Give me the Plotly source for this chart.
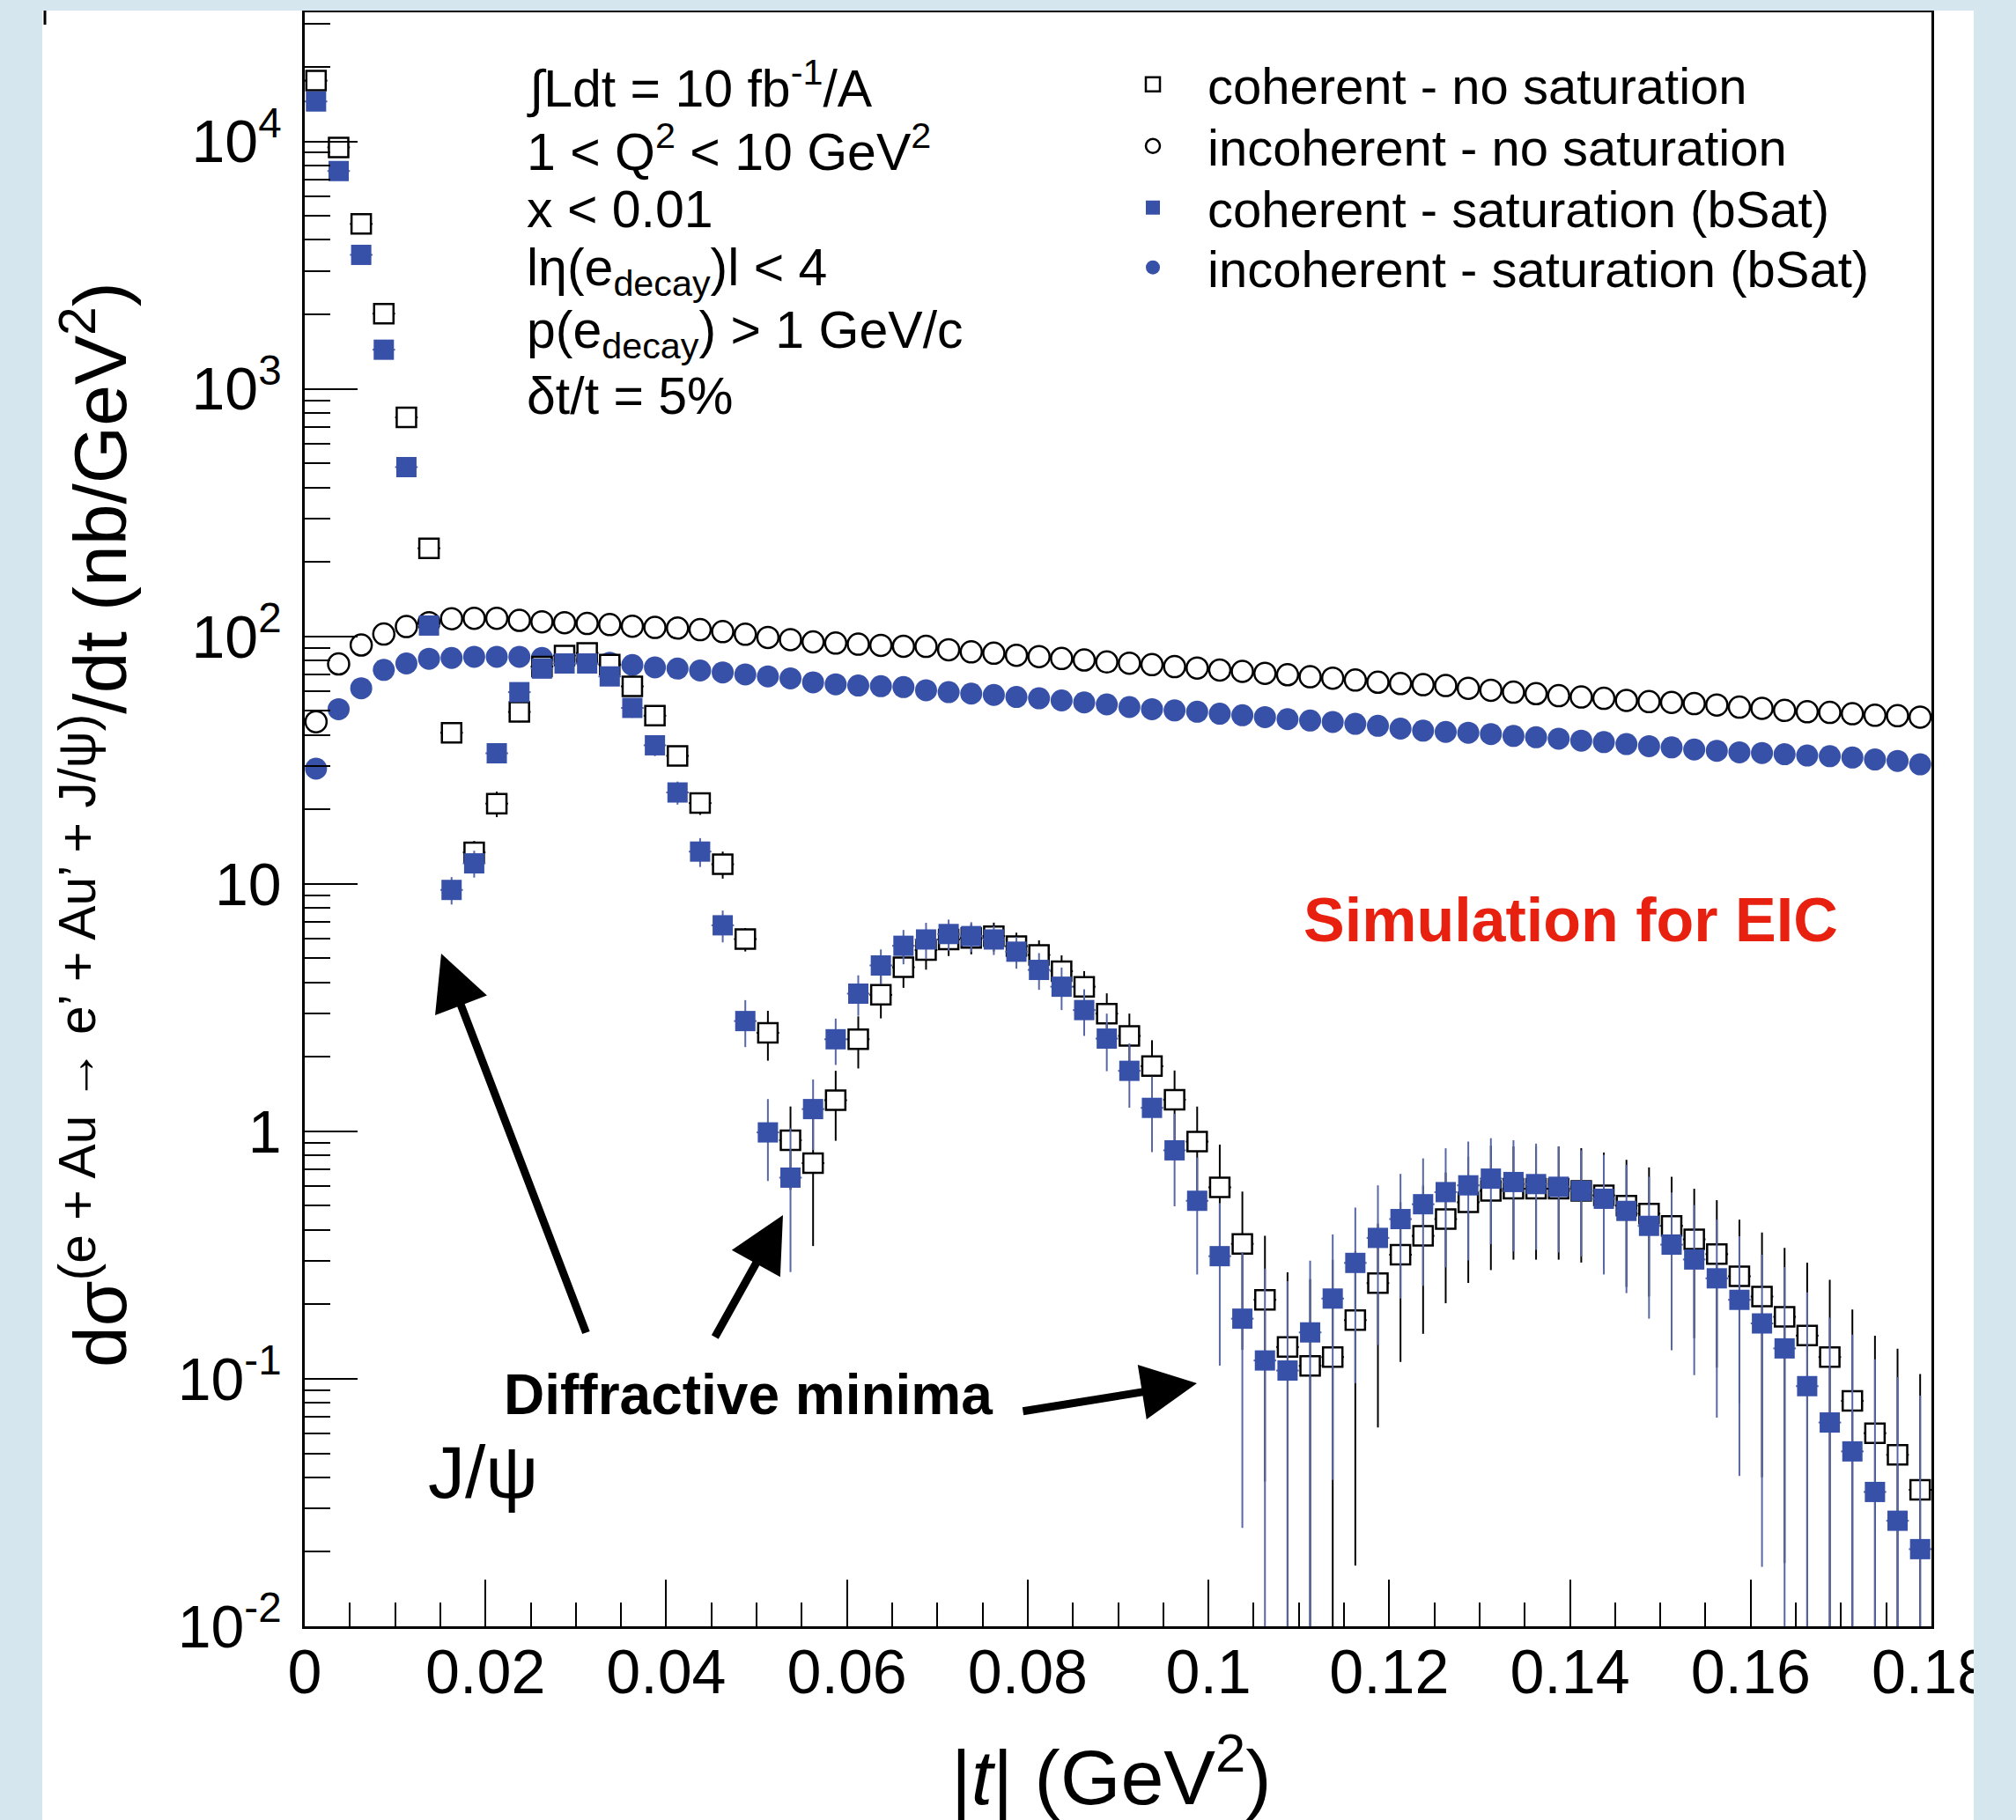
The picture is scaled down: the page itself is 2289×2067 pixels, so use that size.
import plotly.graph_objects as go

# ---------------- data ----------------
t_bins = [0.00125, 0.00375, 0.00625, 0.00875, 0.01125, 0.01375, 0.01625, 0.01875,
          0.02125, 0.02375, 0.02625, 0.02875, 0.03125, 0.03375, 0.03625, 0.03875,
          0.04125, 0.04375, 0.04625, 0.04875, 0.05125, 0.05375, 0.05625, 0.05875,
          0.06125, 0.06375, 0.06625, 0.06875, 0.07125, 0.07375, 0.07625, 0.07875,
          0.08125, 0.08375, 0.08625, 0.08875, 0.09125, 0.09375, 0.09625, 0.09875,
          0.10125, 0.10375, 0.10625, 0.10875, 0.11125, 0.11375, 0.11625, 0.11875,
          0.12125, 0.12375, 0.12625, 0.12875, 0.13125, 0.13375, 0.13625, 0.13875,
          0.14125, 0.14375, 0.14625, 0.14875, 0.15125, 0.15375, 0.15625, 0.15875,
          0.16125, 0.16375, 0.16625, 0.16875, 0.17125, 0.17375, 0.17625, 0.17875]
bin_half_width = 0.00125

coh_nosat = [17600, 9460, 4640, 2014, 767, 227, 40.8, 13.4, 21.1, 49.5, 75.5, 83.6,
             85.7, 76.9, 62.8, 47.8, 32.9, 21.2, 12.0, 5.98, 2.50, 0.92, 0.744, 1.336,
             2.355, 3.56, 4.6, 5.4, 5.96, 6.04, 6.15, 5.6, 5.16, 4.44, 3.84, 2.99,
             2.43, 1.834, 1.341, 0.909, 0.594, 0.351, 0.2085, 0.1344, 0.1128, 0.1224, 0.1726, 0.2436,
             0.317, 0.378, 0.442, 0.517, 0.575, 0.586, 0.586, 0.586, 0.575, 0.551, 0.501, 0.465,
             0.415, 0.366, 0.319, 0.2596, 0.215, 0.178, 0.1495, 0.1224, 0.0814, 0.0603, 0.0493, 0.0356]
coh_nosat_err = [300, 200, 120, 70, 35, 12, 3.5, 1.5, 2.5, 4.5, 6, 6.5,
                 6.5, 6, 5, 4, 3, 2.2, 1.5, 0.65, 0.57, 0.34, 0.4, 0.42,
                 0.56, 0.7, 0.8, 0.9, 0.85, 0.85, 0.82, 0.75, 0.75, 0.7, 0.6, 0.62,
                 0.56, 0.5, 0.42, 0.35, 0.29, 0.22, 0.17, 0.135, 0.14, 0.18, 0.155, 0.18,
                 0.2, 0.226, 0.24, 0.273, 0.3, 0.283, 0.283, 0.283, 0.28, 0.27, 0.266, 0.25,
                 0.24, 0.22, 0.208, 0.18, 0.175, 0.16, 0.145, 0.129, 0.109, 0.089, 0.083, 0.069]

coh_sat = [14500, 7590, 3480, 1440, 483, 110.6, 9.45, 12.1, 33.7, 59.5, 74.1, 77.7,
           77.7, 68.9, 51.4, 36.3, 23.4, 13.5, 6.8, 2.79, 0.99, 0.65, 1.23, 2.355,
           3.6, 4.68, 5.62, 5.96, 6.27, 6.15, 5.96, 5.32, 4.49, 3.84, 3.09, 2.37,
           1.756, 1.244, 0.838, 0.524, 0.313, 0.175, 0.1186, 0.108, 0.154, 0.211, 0.294, 0.371,
           0.442, 0.5075, 0.568, 0.605, 0.644, 0.624, 0.612, 0.597, 0.575, 0.534, 0.477, 0.415,
           0.3484, 0.3035, 0.2547, 0.2085, 0.1674, 0.1327, 0.0934, 0.0666, 0.0509, 0.0349, 0.0267, 0.0205]
coh_sat_err = [250, 170, 100, 55, 25, 7, 1.2, 1.5, 3, 5, 6, 6,
               6, 5.5, 4.5, 3.5, 2.5, 1.8, 1.0, 0.6, 0.36, 0.38, 0.39, 0.5,
               0.67, 0.75, 0.89, 1.0, 0.9, 0.85, 0.8, 0.78, 0.76, 0.75, 0.66, 0.62,
               0.51, 0.42, 0.34, 0.26, 0.2, 0.15, 0.16, 0.14, 0.146, 0.172, 0.198, 0.234,
               0.231, 0.27, 0.286, 0.304, 0.294, 0.297, 0.28, 0.273, 0.263, 0.27, 0.255, 0.24,
               0.218, 0.2, 0.185, 0.168, 0.15, 0.15, 0.13, 0.11, 0.1, 0.085, 0.075, 0.065]

incoh_nosat = [45.2, 77.4, 92.3, 102.2, 109.6, 113.6, 117.9, 118.3, 118.3, 116.1, 114.5, 113.6,
               112.8, 111.6, 109.9, 108.7, 108.0, 106.5, 104.5, 102.0, 99.0, 97.0, 95.0, 94.0,
               93.0, 92.0, 91.2, 91.1, 88.3, 86.6, 85.5, 83.9, 82.9, 81.4, 80.3, 78.8,
               77.9, 76.9, 75.5, 74.5, 73.1, 72.2, 70.9, 70.0, 68.7, 67.8, 66.6, 65.3,
               64.5, 63.8, 63.3, 61.7, 60.6, 59.5, 58.7, 57.6, 56.9, 56.2, 55.1, 54.5,
               54.1, 53.5, 52.8, 51.8, 51.2, 50.2, 49.6, 49.3, 48.7, 48.0, 47.8, 47.2]

incoh_sat = [29.2, 50.8, 61.7, 73.2, 77.7, 81.2, 81.8, 82.7, 82.7, 82.7, 81.8, 80.5,
             79.6, 78.2, 76.6, 74.9, 74.1, 72.8, 71.5, 70.2, 68.9, 67.6, 65.2, 64.0,
             63.3, 62.9, 62.4, 60.6, 59.5, 58.7, 58.0, 56.9, 56.2, 55.1, 54.1, 53.1,
             51.8, 50.8, 50.2, 49.6, 48.7, 48.0, 47.2, 46.3, 45.7, 45.1, 44.3, 43.5,
             42.4, 41.6, 41.1, 40.8, 40.3, 39.6, 39.1, 38.6, 37.9, 37.4, 36.7, 36.0,
             35.6, 34.9, 34.5, 34.0, 33.8, 33.4, 33.0, 32.8, 32.4, 31.8, 31.4, 30.4]

series_names = ["coherent - no saturation", "incoherent - no saturation",
                "coherent - saturation (bSat)", "incoherent - saturation (bSat)"]

x_tickvals = [0, 0.02, 0.04, 0.06, 0.08, 0.1, 0.12, 0.14, 0.16, 0.18]
x_ticktext = ["0", "0.02", "0.04", "0.06", "0.08", "0.1", "0.12", "0.14", "0.16", "0.18"]
y_tickvals = [0.01, 0.1, 1, 10, 100, 1000, 10000]
y_ticktext = ["10<sup>-2</sup>", "10<sup>-1</sup>", "1", "10", "10<sup>2</sup>",
              "10<sup>3</sup>", "10<sup>4</sup>"]
y_minor_vals = [m * 10 ** e for e in range(-2, 5) for m in range(2, 10)]

info_lines = ["∫Ldt = 10 fb<sup>-1</sup>/A",
              "1 < Q<sup>2</sup> < 10 GeV<sup>2</sup>",
              "x < 0.01",
              "lη(e<sub>decay</sub>)l < 4",
              "p(e<sub>decay</sub>) > 1 GeV/c",
              "δt/t = 5%"]

# ---------------- styling / geometry ----------------
W, H = 2289, 2067
L, R, T, B = 346, 96, 14, 220
PW, PH = W - L - R, H - T - B
FONT = "Liberation Sans, Arial, Helvetica, sans-serif"
BLUE = "#3750a8"
BLUE_ERR = "#5867a6"
SLIDE = "#d5e6ee"


def px(X):
    return (X - L) / PW


def py(Y):
    return (H - B - Y) / PH


fig = go.Figure()

fig.add_trace(go.Scatter(
    x=t_bins, y=incoh_nosat, mode="markers", name=series_names[1], legend="legend2",
    marker=dict(symbol="circle", size=24, color="white", line=dict(color="black", width=2.5))))
fig.add_trace(go.Scatter(
    x=t_bins, y=incoh_sat, mode="markers", name=series_names[3], legend="legend4",
    marker=dict(symbol="circle", size=25, color=BLUE, line=dict(width=0))))
fig.add_trace(go.Scatter(
    x=t_bins, y=coh_nosat, mode="markers", name=series_names[0], legend="legend",
    marker=dict(symbol="square", size=22, color="white", line=dict(color="black", width=2.5)),
    error_y=dict(type="data", array=coh_nosat_err, visible=True, color="black", thickness=2, width=0),
    error_x=dict(type="constant", value=bin_half_width, visible=True, color="black", thickness=2, width=0)))
fig.add_trace(go.Scatter(
    x=t_bins, y=coh_sat, mode="markers", name=series_names[2], legend="legend3",
    marker=dict(symbol="square", size=23, color=BLUE, line=dict(width=0)),
    error_y=dict(type="data", array=coh_sat_err, visible=True, color=BLUE_ERR, thickness=2, width=0),
    error_x=dict(type="constant", value=bin_half_width, visible=True, color=BLUE_ERR, thickness=2, width=0)))

annotations = []
info_y = [97, 169, 238, 308, 379, 450]
for txt, yy in zip(info_lines, info_y):
    annotations.append(dict(text=txt, x=px(596), y=py(yy), xref="paper", yref="paper",
                            xanchor="left", yanchor="middle", showarrow=False,
                            font=dict(size=59, color="black", family=FONT)))

annotations.append(dict(text="<b>Simulation for EIC</b>", x=px(1783), y=py(1045), xref="paper", yref="paper",
                        xanchor="center", yanchor="middle", showarrow=False,
                        font=dict(size=70, color="#e8200f", family=FONT)))
annotations.append(dict(text="<b>Diffractive minima</b>", x=px(849), y=py(1584), xref="paper", yref="paper",
                        xanchor="center", yanchor="middle", showarrow=False,
                        font=dict(size=64, color="black", family=FONT)))
annotations.append(dict(text="J/ψ", x=px(548), y=py(1672), xref="paper", yref="paper",
                        xanchor="center", yanchor="middle", showarrow=False,
                        font=dict(size=84, color="black", family=FONT)))

for (hx, hy, tx, ty) in [(501, 1083, 666, 1515), (889, 1380, 811, 1520), (1359, 1571, 1160, 1603)]:
    annotations.append(dict(text="", x=px(hx), y=py(hy), xref="paper", yref="paper",
                            showarrow=True, ax=tx - hx, ay=ty - hy, axref="pixel", ayref="pixel",
                            arrowhead=2, arrowsize=1.4, arrowwidth=9, arrowcolor="black", standoff=0))

annotations.append(dict(text="dσ<sup>(e + Au → e’ + Au’ + J/ψ)</sup>/dt (nb/GeV<sup>2</sup>)",
                        x=px(108), y=py(937), xref="paper", yref="paper", textangle=-90,
                        xanchor="center", yanchor="middle", showarrow=False,
                        font=dict(size=84, color="black", family=FONT)))
annotations.append(dict(text="|<i>t</i>| (GeV<sup>2</sup>)", x=px(1262), y=py(2012),
                        xref="paper", yref="paper", xanchor="center", yanchor="middle",
                        showarrow=False, font=dict(size=88, color="black", family=FONT)))

shapes = [
    dict(type="rect", xref="paper", yref="paper", x0=px(0), x1=px(48), y0=py(H), y1=py(0),
         fillcolor=SLIDE, line=dict(width=0), layer="above"),
    dict(type="rect", xref="paper", yref="paper", x0=px(2241), x1=px(W), y0=py(H), y1=py(0),
         fillcolor=SLIDE, line=dict(width=0), layer="above"),
    dict(type="rect", xref="paper", yref="paper", x0=px(0), x1=px(W), y0=py(12), y1=py(0),
         fillcolor=SLIDE, line=dict(width=0), layer="above"),
    dict(type="line", xref="paper", yref="paper", x0=px(51), x1=px(51), y0=py(12), y1=py(28),
         line=dict(color="black", width=3), layer="above"),
]

legend_rows = [96, 166, 236, 304]
leg_common = dict(x=px(1247), xanchor="left", yanchor="middle", bgcolor="rgba(0,0,0,0)",
                  borderwidth=0, itemwidth=114, font=dict(size=58, color="black", family=FONT))

fig.update_layout(
    width=W, height=H,
    margin=dict(l=L, r=R, t=T, b=B, pad=0),
    paper_bgcolor="white", plot_bgcolor="white",
    font=dict(family=FONT, color="black"),
    showlegend=True,
    legend=dict(y=py(legend_rows[0]), **leg_common),
    legend2=dict(y=py(legend_rows[1]), **leg_common),
    legend3=dict(y=py(legend_rows[2]), **leg_common),
    legend4=dict(y=py(legend_rows[3]), **leg_common),
    annotations=annotations,
    shapes=shapes,
    xaxis=dict(range=[0, 0.18], tickmode="array", tickvals=x_tickvals, ticktext=x_ticktext,
               ticks="inside", ticklen=53, tickwidth=2, tickcolor="black",
               minor=dict(dtick=0.005, tick0=0, ticks="inside", ticklen=27, tickwidth=2,
                          tickcolor="black", showgrid=False),
               showline=True, linecolor="black", linewidth=2.5, mirror=True,
               showgrid=False, zeroline=False, ticklabelstandoff=-11,
               tickfont=dict(size=70, color="black", family=FONT)),
    yaxis=dict(type="log", range=[-2, 4.5216], tickmode="array", tickvals=y_tickvals,
               ticktext=y_ticktext, ticks="inside", ticklen=60, tickwidth=2, tickcolor="black",
               minor=dict(tickmode="array", tickvals=y_minor_vals, ticks="inside", ticklen=29,
                          tickwidth=2, tickcolor="black", showgrid=False),
               showline=True, linecolor="black", linewidth=2.5, mirror=True,
               showgrid=False, zeroline=False, ticklabelstandoff=10,
               tickfont=dict(size=68, color="black", family=FONT)),
)

fig.write_html("out.html")
